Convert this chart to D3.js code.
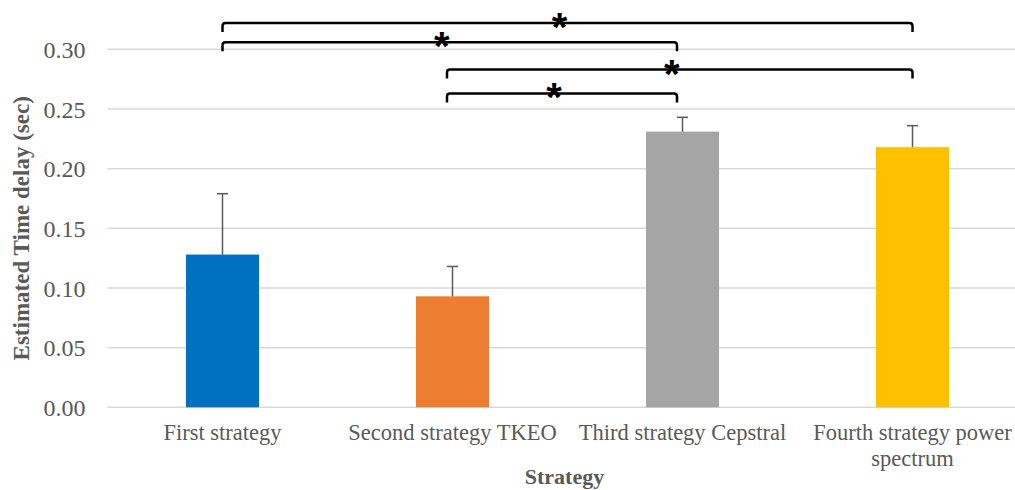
<!DOCTYPE html>
<html>
<head>
<meta charset="utf-8">
<script src="https://cdn.jsdelivr.net/npm/d3@7"></script>
<style>
  body { margin: 0; background: #fff; }
  svg { display: block; }
  .tick text { font-family: "Liberation Serif", "Times New Roman", serif; fill: #595959; }
</style>
</head>
<body>
<div id="chart"></div>
<script>
// data
var categories = ["First strategy", "Second strategy TKEO", "Third strategy Cepstral", "Fourth strategy power spectrum"];
var means = [0.128, 0.093, 0.231, 0.218];
var errors = [0.051, 0.025, 0.012, 0.018];
var colors = ["#0070C0", "#ED7D31", "#A5A5A5", "#FFC000"];
var yTicks = [0, 0.05, 0.10, 0.15, 0.20, 0.25, 0.30];
// significance brackets: from category, to category, level (sec)
var brackets = [
  { from: 0, to: 3, level: 0.322 },
  { from: 0, to: 2, level: 0.306 },
  { from: 1, to: 3, level: 0.283 },
  { from: 1, to: 2, level: 0.263 }
];

var W = 1015, H = 490;
var margin = { top: 49.3, left: 107.5, bottom: 82.7 },
  width = 920,
  height = H - margin.top - margin.bottom;

var svg = d3.select("#chart").append("svg")
  .attr("width", W)
  .attr("height", H);

var g = svg.append("g")
  .attr("transform", "translate(" + margin.left + "," + margin.top + ")");

var x = d3.scaleBand()
  .domain(categories)
  .range([0, width])
  .paddingInner(157 / 230)
  .paddingOuter(157 / 230 / 2);

var y = d3.scaleLinear()
  .domain([0, 0.30])
  .range([height, 0]);

// gridlines
g.selectAll(".grid").data(yTicks).enter()
  .append("line")
  .attr("class", "grid")
  .attr("x1", 0)
  .attr("x2", width)
  .attr("y1", function (d) { return y(d); })
  .attr("y2", function (d) { return y(d); })
  .attr("stroke", "#D9D9D9")
  .attr("stroke-width", 1.5);

// y axis labels
var yAxis = g.append("g")
  .call(d3.axisLeft(y).tickValues(yTicks).tickFormat(d3.format(".2f")).tickSize(0).tickPadding(22));
yAxis.select(".domain").remove();
yAxis.selectAll("text").style("font-size", "24px").attr("dy", "0.34em");

// bars
g.selectAll(".bar").data(means).enter()
  .append("rect")
  .attr("class", "bar")
  .attr("x", function (d, i) { return x(categories[i]); })
  .attr("width", x.bandwidth())
  .attr("y", function (d) { return y(d); })
  .attr("height", function (d) { return height - y(d); })
  .attr("fill", function (d, i) { return colors[i]; });

// error bars (upper only)
var cx = function (i) { return x(categories[i]) + x.bandwidth() / 2; };
var err = g.selectAll(".err").data(means).enter().append("g").attr("class", "err")
  .attr("stroke", "#595959").attr("stroke-width", 1.5);
err.append("line")
  .attr("x1", function (d, i) { return cx(i); })
  .attr("x2", function (d, i) { return cx(i); })
  .attr("y1", function (d) { return y(d); })
  .attr("y2", function (d, i) { return y(d + errors[i]); });
err.append("line")
  .attr("x1", function (d, i) { return cx(i) - 5.5; })
  .attr("x2", function (d, i) { return cx(i) + 5.5; })
  .attr("y1", function (d, i) { return y(d + errors[i]); })
  .attr("y2", function (d, i) { return y(d + errors[i]); });

// x axis labels
var xAxis = g.append("g")
  .attr("transform", "translate(0," + height + ")")
  .call(d3.axisBottom(x).tickSize(0).tickPadding(0));
xAxis.select(".domain").remove();
xAxis.selectAll("text").remove();
xAxis.selectAll(".tick").each(function (d) {
  var t = d3.select(this).append("text")
    .attr("text-anchor", "middle")
    .style("font-size", "22.5px")
    .attr("y", 33);
  var lines = d === "Fourth strategy power spectrum" ? ["Fourth strategy power", "spectrum"] : [d];
  lines.forEach(function (l, k) {
    t.append("tspan").attr("x", 0).attr("dy", k === 0 ? 0 : 26).text(l);
  });
});

// significance brackets (inner ends sit slightly left of bar centres)
var bx = function (i) { return cx(i) - (i === 1 || i === 2 ? 5.5 : 0); };
var bg = g.selectAll(".bracket").data(brackets).enter().append("g").attr("class", "bracket");
bg.append("path")
  .attr("fill", "none")
  .attr("stroke", "#000")
  .attr("stroke-width", 2.5)
  .attr("d", function (b) {
    var x1 = bx(b.from), x2 = bx(b.to), yy = y(b.level), r = 3, tick = 9;
    return "M" + x1 + "," + (yy + tick) +
      "L" + x1 + "," + (yy + r) +
      "Q" + x1 + "," + yy + " " + (x1 + r) + "," + yy +
      "L" + (x2 - r) + "," + yy +
      "Q" + x2 + "," + yy + " " + x2 + "," + (yy + r) +
      "L" + x2 + "," + (yy + tick);
  });
bg.append("text")
  .attr("x", function (b) { return (bx(b.from) + bx(b.to)) / 2 - 8; })
  .attr("y", function (b) { return y(b.level) + 18; })
  .attr("text-anchor", "middle")
  .style("font-family", "'Liberation Sans', Arial, sans-serif")
  .style("font-weight", "bold")
  .style("font-size", "40px")
  .attr("fill", "#000")
  .text("*");

// axis titles
g.append("text")
  .attr("x", width / 2 - 3)
  .attr("y", height + 77)
  .attr("text-anchor", "middle")
  .style("font-family", "'Liberation Serif', 'Times New Roman', serif")
  .style("font-weight", "bold")
  .style("font-size", "22px")
  .attr("fill", "#595959")
  .text("Strategy");

g.append("text")
  .attr("transform", "translate(" + (-margin.left + 29) + "," + (height / 2) + ") rotate(-90)")
  .attr("text-anchor", "middle")
  .style("font-family", "'Liberation Serif', 'Times New Roman', serif")
  .style("font-weight", "bold")
  .style("font-size", "23px")
  .attr("fill", "#595959")
  .text("Estimated Time delay (sec)");
</script>
</body>
</html>
